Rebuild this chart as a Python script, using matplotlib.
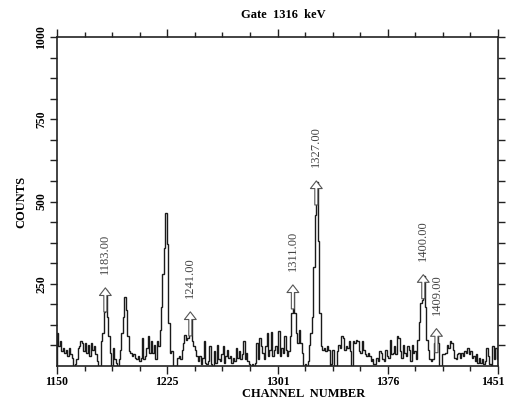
import numpy as np
import matplotlib
matplotlib.use('Agg')
import matplotlib.pyplot as plt
import matplotlib.transforms as mtransforms

plt.rcParams['font.family'] = ['Liberation Serif', 'DejaVu Serif']

# counts per channel, channels 1150..1450
counts = [
    100, 60, 75, 45, 55, 40, 50, 30, 55, 35,
    25, 0, 5, 20, 55, 60, 75, 70, 45, 70,
    40, 65, 30, 70, 50, 60, 35, 15, 0, 0,
    75, 100, 165, 230, 150, 90, 40, 0, 55, 20,
    10, 0, 20, 50, 100, 150, 210, 170, 90, 45,
    40, 30, 35, 25, 20, 30, 15, 25, 85, 20,
    30, 55, 90, 40, 75, 40, 65, 20, 75, 60,
    110, 180, 280, 360, 465, 370, 130, 40, 45, 0,
    0, 0, 25, 30, 20, 50, 70, 95, 80, 85,
    110, 155, 75, 60, 50, 30, 15, 30, 5, 25,
    75, 10, 5, 15, 60, 5, 0, 45, 10, 65,
    20, 15, 35, 60, 10, 30, 50, 25, 30, 10,
    25, 15, 55, 25, 45, 20, 35, 75, 20, 40,
    15, 5, 0, 5, 0, 10, 70, 20, 85, 60,
    40, 20, 60, 100, 30, 50, 104, 30, 50, 60,
    40, 105, 30, 55, 40, 90, 50, 30, 45, 90,
    160, 230, 160, 100, 70, 110, 70, 40, 0, 5,
    0, 15, 65, 100, 150, 300, 460, 560, 380, 160,
    60, 50, 55, 45, 60, 50, 0, 5, 50, 0,
    0, 45, 65, 55, 90, 85, 50, 60, 55, 75,
    45, 0, 75, 70, 80, 75, 45, 40, 75, 50,
    35, 30, 40, 30, 15, 20, 5, 5, 25, 15,
    45, 40, 20, 15, 50, 30, 25, 80, 35, 40,
    60, 35, 90, 85, 45, 25, 65, 40, 30, 60,
    50, 15, 65, 40, 45, 20, 80, 135, 190, 200,
    275, 180, 80, 50, 20, 15, 20, 70, 60, 105,
    70, 0, 0, 35, 35, 40, 65, 55, 75, 70,
    50, 25, 20, 35, 40, 25, 40, 30, 45, 40,
    55, 35, 45, 25, 30, 15, 35, 10, 25, 10,
    20, 5, 15, 55, 30, 5, 0, 60, 20, 55,
    20,
]
first_channel = 1150

peak_channels = [1183, 1241, 1311, 1327, 1400, 1409]
peak_tips = [246, 173, 255, 571, 286, 122]
peak_labels = ['1183.00', '1241.00', '1311.00', '1327.00', '1400.00', '1409.00']

xtick_pos = [1150, 1225.25, 1300.5, 1375.75, 1451]
xtick_labels = ['1150', '1225', '1301', '1376', '1451']
ytick_pos = [250, 500, 750, 1000]
ytick_labels = ['250', '500', '750', '1000']

edges = np.arange(first_channel, first_channel + len(counts) + 1)

fig = plt.figure(figsize=(5.08, 4.03), dpi=100)
ax = fig.add_axes([57/508, 37/403, 441/508, 329/403])

ax.stairs(counts, edges, color='#1a1a1a', linewidth=1.0)

for ch, tip, lab in zip(peak_channels, peak_tips, peak_labels):
    ax.annotate('', xy=(ch, tip), xytext=(ch, tip - 90),
                arrowprops=dict(arrowstyle='simple,head_width=0.85,head_length=0.55,tail_width=0.22',
                                fc='white', ec='#555555', lw=0.8))
    ax.annotate(lab, xy=(ch, tip), xytext=(0, 8), textcoords='offset points',
                rotation=90, ha='center', va='bottom', fontsize=9, color='#444444')

ax.set_xlim(1150, 1451)
ax.set_ylim(0, 1000)

ax.set_xticks(xtick_pos)
ax.set_xticklabels(xtick_labels, fontweight='bold', fontsize=8.5)
minor_x = []
for a, b in zip(xtick_pos[:-1], xtick_pos[1:]):
    minor_x += [a + (b - a) * k / 4 for k in (1, 2, 3)]
ax.set_xticks(minor_x, minor=True)

ax.set_yticks(ytick_pos)
ax.set_yticklabels(ytick_labels, fontweight='bold', fontsize=8.5, rotation=90, va='center')
ax.set_yticks(np.arange(62.5, 1000, 62.5), minor=True)

ax.tick_params(which='both', direction='out', top=True, right=True, width=1.0, color='#222222')
ax.tick_params(which='major', length=6)
ax.tick_params(which='minor', length=3.5)
ax.tick_params(axis='y', which='both', length=5, pad=2)
ax.tick_params(axis='x', which='both', pad=1.5)

# last x label sits a little inside the figure edge
last = ax.get_xticklabels()[-1]
last.set_transform(last.get_transform() + mtransforms.ScaledTranslation(-5/100, 0, fig.dpi_scale_trans))

for s in ax.spines.values():
    s.set_linewidth(1.2)
    s.set_color('#222222')

ax.set_title('Gate  1316  keV', fontweight='bold', fontsize=9, pad=14, x=0.513)
ax.set_xlabel('CHANNEL  NUMBER', fontweight='bold', fontsize=9)
ax.xaxis.set_label_coords(0.56, -0.068)
ax.set_ylabel('COUNTS', fontweight='bold', fontsize=9)
ax.yaxis.set_label_coords(-0.068, 0.5)

fig.savefig('out.png', dpi=100)
